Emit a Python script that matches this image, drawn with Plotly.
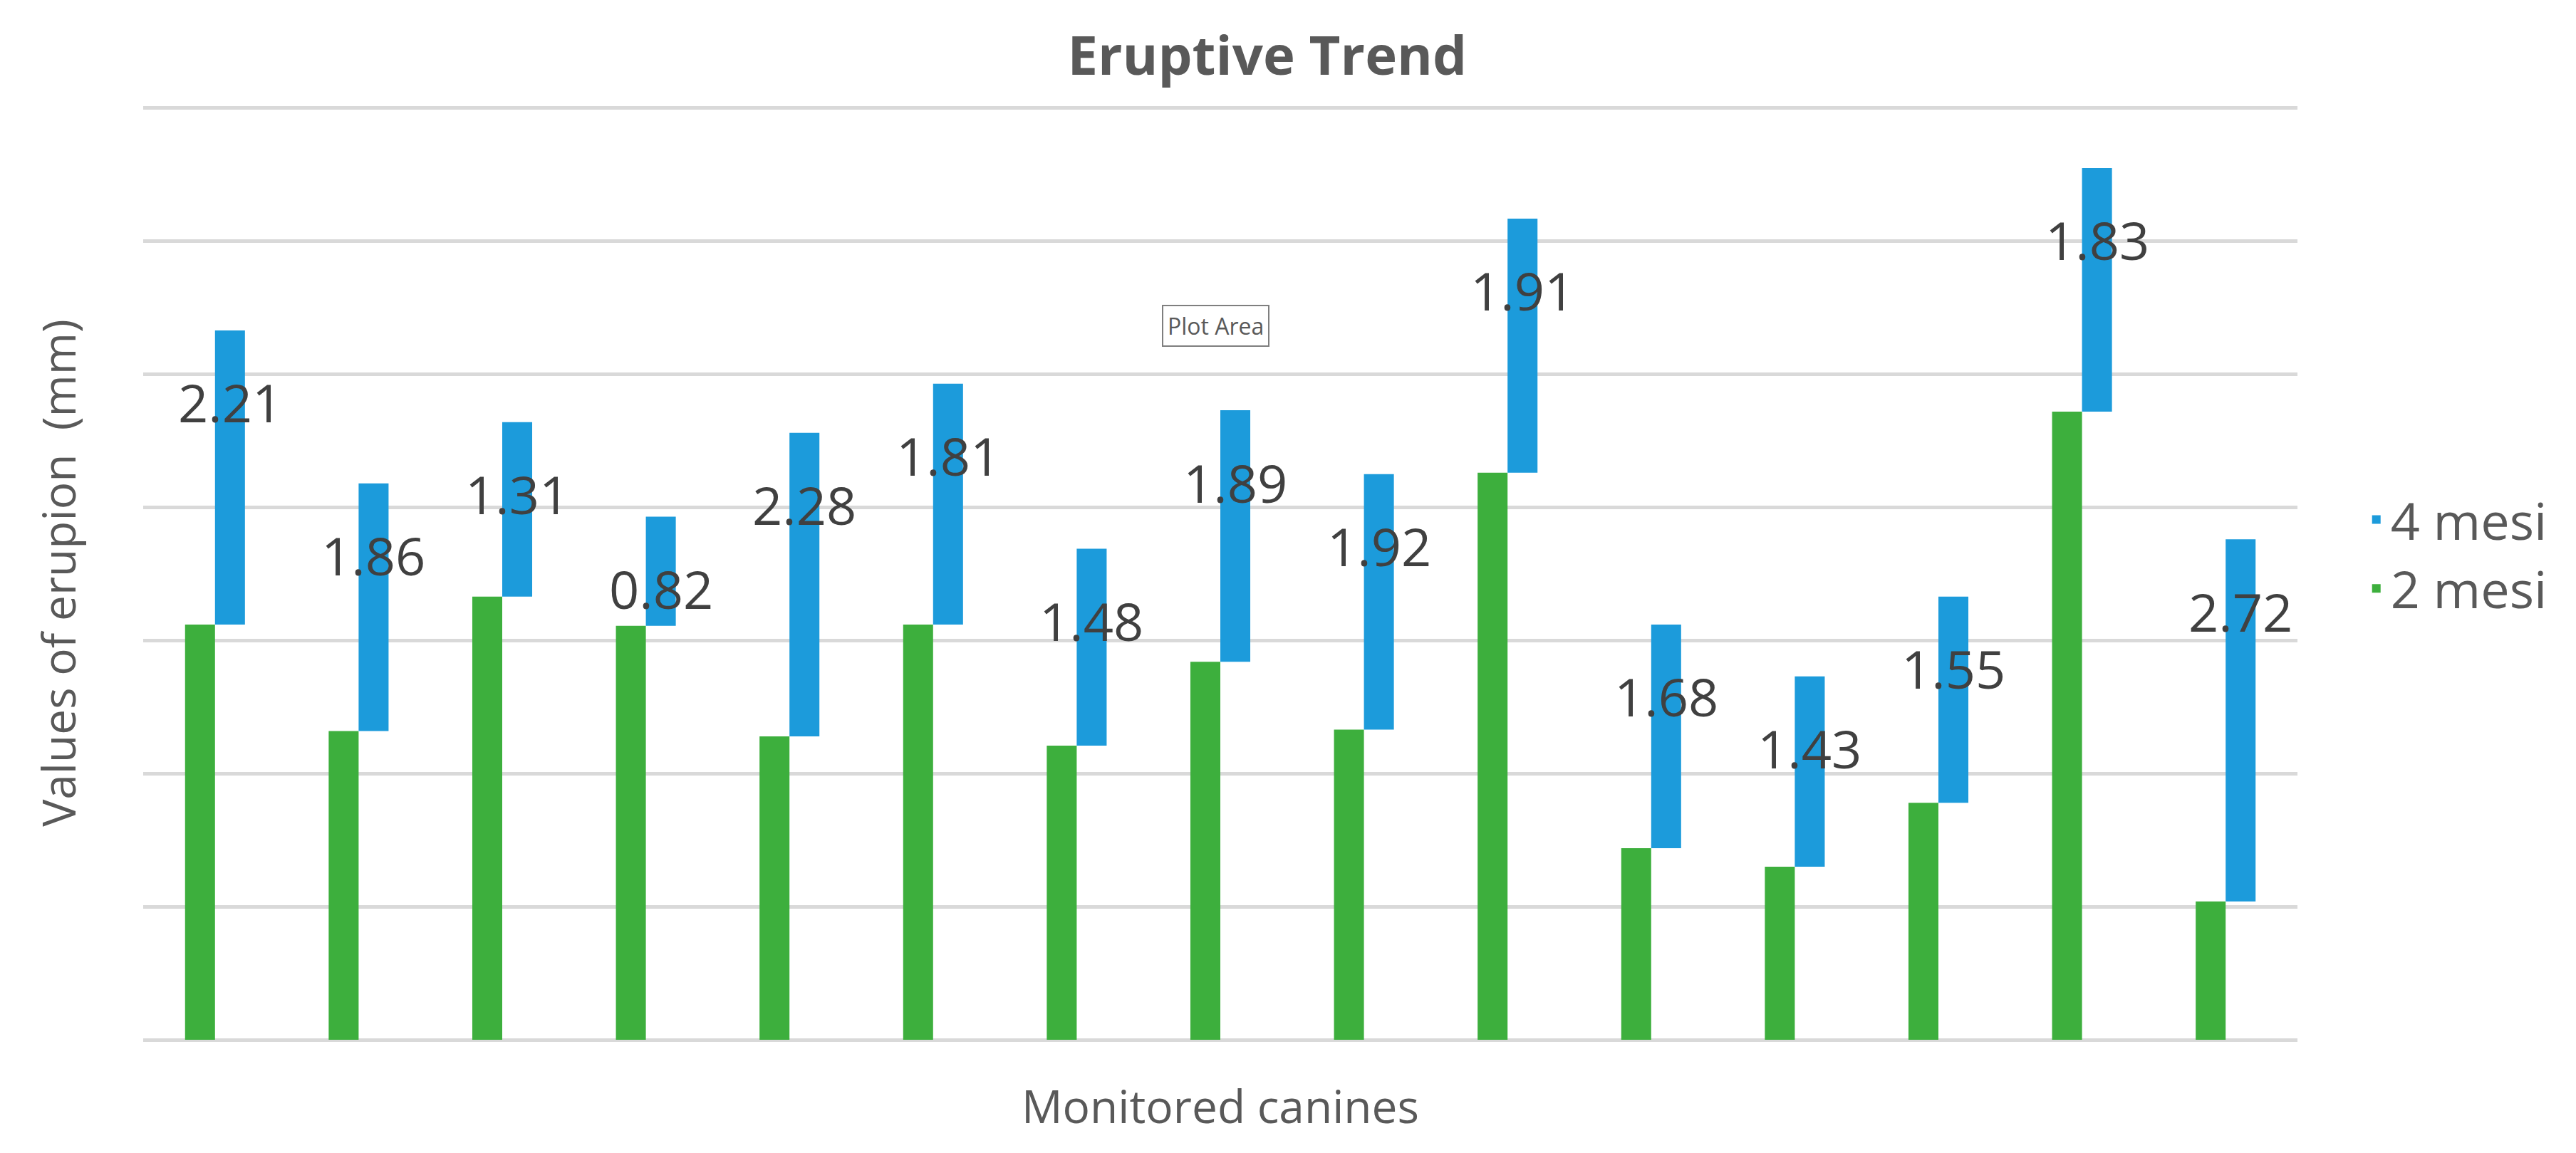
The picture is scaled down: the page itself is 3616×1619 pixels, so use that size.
import plotly.graph_objects as go

# ---- data ----
canines = list(range(1, 16))
mesi_2 = [3.12, 2.32, 3.33, 3.11, 2.28, 3.12, 2.21, 2.84, 2.33, 4.26, 1.44, 1.30, 1.78, 4.72, 1.04]
mesi_4 = [2.21, 1.86, 1.31, 0.82, 2.28, 1.81, 1.48, 1.89, 1.92, 1.91, 1.68, 1.43, 1.55, 1.83, 2.72]
series_names = ["2 mesi", "4 mesi"]
labels_4 = [f"{v:.2f}" for v in mesi_4]

TEXT = "#595959"
FONT = "Open Sans"

fig = go.Figure()
fig.add_trace(go.Bar(
    x=canines, y=mesi_2, name=series_names[0],
    marker=dict(color="#3DAF3D", line=dict(width=0)),
))
fig.add_trace(go.Bar(
    x=canines, y=mesi_4, base=mesi_2, name=series_names[1],
    marker=dict(color="#1C9BDB", line=dict(width=0)),
))

annotations = []
for c, g, b, t in zip(canines, mesi_2, mesi_4, labels_4):
    annotations.append(dict(
        x=c, y=g + b, xref="x", yref="y", text=t, showarrow=False,
        xshift=21, yshift=-101, yanchor="middle", xanchor="center",
        font=dict(family=FONT, size=74, color="#404040"),
    ))

annotations.append(dict(
    x=0.498, y=0.765, xref="paper", yref="paper", text="Plot Area",
    showarrow=False, xanchor="center", yanchor="middle",
    font=dict(family=FONT, size=32, color=TEXT),
    bordercolor="#7F7F7F", borderwidth=2, borderpad=6, bgcolor="white",
))

fig.update_layout(
    width=3616, height=1619,
    paper_bgcolor="white", plot_bgcolor="white",
    margin=dict(l=193, r=399, t=141, b=167, autoexpand=False),
    barmode="group", bargap=0.583, bargroupgap=0,
    title=dict(text="<b>Eruptive Trend</b>", x=0.4897, xanchor="center",
               y=1 - 70 / 1619, yanchor="middle", yref="container",
               font=dict(family=FONT, size=76, color=TEXT)),
    font=dict(family=FONT, color=TEXT),
    legend=dict(x=1.03, xanchor="left", y=0.52, yanchor="middle",
                traceorder="reversed", font=dict(family=FONT, size=72, color=TEXT),
                bgcolor="rgba(0,0,0,0)"),
    annotations=annotations,
    showlegend=True,
)
fig.update_xaxes(
    range=[0.5, 15.5], automargin=False,
    showticklabels=False, showgrid=False, zeroline=False, showline=False, ticks="",
    title=dict(text="Monitored canines", font=dict(family=FONT, size=64, color=TEXT), standoff=72),
)
fig.update_yaxes(
    range=[0, 7.015], dtick=1, showticklabels=False, ticks="", automargin=False,
    showgrid=True, gridcolor="#D9D9D9", gridwidth=5,
    zeroline=True, zerolinecolor="#D9D9D9", zerolinewidth=5, showline=False,
    title=dict(text="Values of erupion  (mm)", font=dict(family=FONT, size=64, color=TEXT), standoff=72),
)

fig.write_html("out.html")
